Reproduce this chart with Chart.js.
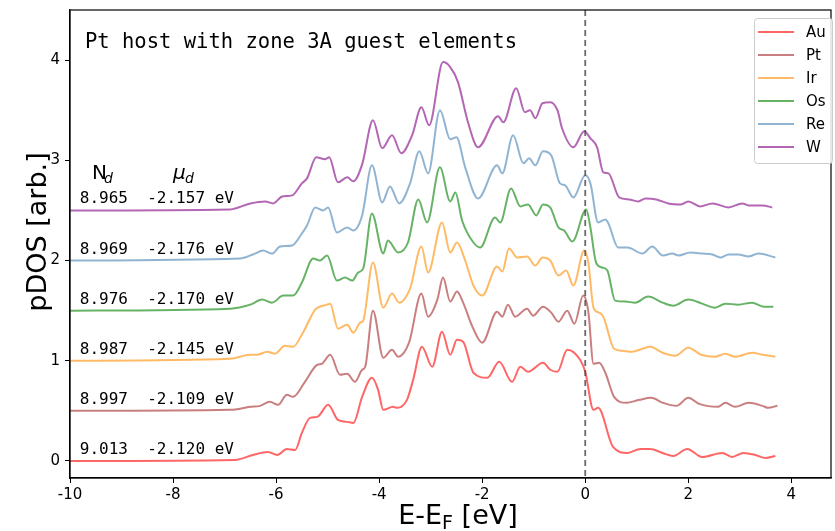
<!DOCTYPE html>
<html><head><meta charset="utf-8">
<script src="https://cdn.jsdelivr.net/npm/chart.js@4"></script>
<style>html,body{margin:0;padding:0;background:#fff}canvas{display:block}</style>
</head><body>
<canvas id="c" width="835" height="531"></canvas>
<script>
const elements = ['Au','Pt','Ir','Os','Re','W'];
const offsets = [0, 0.5, 1.0, 1.5, 2.0, 2.5];
const colors = ['rgba(255,0,0,0.6)','rgba(165,42,42,0.6)','rgba(255,140,0,0.6)','rgba(0,128,0,0.6)','rgba(70,130,180,0.6)','rgba(128,0,128,0.6)'];
const ndValues = ['9.013','8.997','8.987','8.976','8.969','8.965'];
const muValues = ['-2.120','-2.109','-2.145','-2.170','-2.176','-2.157'];
const xTicks = [-10,-8,-6,-4,-2,0,2,4];
const yTicks = [0,1,2,3,4];

// [E - E_F (eV), pDOS (arb.)] before vertical offset
const auPts = [[-10,0],[-6.80,0.01],[-6.45,0.06],[-6.16,0.09],[-5.98,0.06],[-5.79,0.12],[-5.63,0.11],[-5.50,0.28],[-5.34,0.43],[-5.20,0.44],[-4.99,0.56],[-4.80,0.41],[-4.62,0.39],[-4.50,0.38],[-4.33,0.64],[-4.14,0.83],[-4.02,0.71],[-3.92,0.51],[-3.73,0.54],[-3.65,0.53],[-3.46,0.61],[-3.34,0.81],[-3.17,1.14],[-2.97,0.94],[-2.78,1.29],[-2.62,1.06],[-2.49,1.21],[-2.37,1.19],[-2.17,0.88],[-1.90,0.83],[-1.67,0.99],[-1.42,0.79],[-1.26,0.94],[-1.11,0.89],[-0.82,0.98],[-0.68,0.91],[-0.54,0.89],[-0.35,1.11],[-0.10,1.01],[0,0.89],[0.16,0.51],[0.25,0.53],[0.54,0.14],[0.82,0.08],[1.07,0.12],[1.26,0.12],[1.50,0.08],[1.71,0.05],[1.98,0.12],[2.27,0.04],[2.66,0.08],[2.85,0.04],[3.07,0.08],[3.30,0.06],[3.50,0.03],[3.69,0.05]];
const ptPts = [[-10,0],[-6.89,0.01],[-6.50,0.04],[-6.31,0.05],[-6.12,0.09],[-5.96,0.06],[-5.79,0.16],[-5.67,0.14],[-5.44,0.29],[-5.20,0.46],[-5.11,0.47],[-4.95,0.56],[-4.76,0.36],[-4.62,0.37],[-4.47,0.29],[-4.33,0.41],[-4.27,0.44],[-4.12,1.00],[-3.92,0.53],[-3.75,0.61],[-3.63,0.54],[-3.42,0.68],[-3.18,1.17],[-3.05,0.94],[-2.87,1.11],[-2.76,1.33],[-2.62,1.09],[-2.49,1.19],[-2.37,1.08],[-2.19,0.84],[-2.00,0.68],[-1.71,0.99],[-1.61,0.94],[-1.50,1.06],[-1.36,0.94],[-1.13,1.02],[-1.01,0.95],[-0.82,1.04],[-0.66,0.98],[-0.52,0.89],[-0.35,1.00],[-0.21,0.87],[-0.04,1.15],[0.06,0.99],[0.16,0.47],[0.27,0.48],[0.39,0.38],[0.56,0.14],[0.80,0.08],[1.05,0.11],[1.28,0.13],[1.51,0.08],[1.77,0.05],[2.00,0.13],[2.21,0.07],[2.58,0.04],[2.72,0.08],[2.91,0.04],[3.17,0.08],[3.44,0.05],[3.55,0.03],[3.73,0.05]];
const irPts = [[-10,0],[-6.89,0.02],[-6.50,0.06],[-6.37,0.06],[-6.17,0.09],[-6.02,0.07],[-5.83,0.15],[-5.67,0.14],[-5.48,0.28],[-5.24,0.51],[-5.01,0.56],[-4.95,0.57],[-4.80,0.32],[-4.62,0.36],[-4.50,0.28],[-4.37,0.38],[-4.31,0.40],[-4.12,0.98],[-3.92,0.53],[-3.75,0.67],[-3.61,0.58],[-3.40,0.72],[-3.18,1.14],[-3.05,0.88],[-2.78,1.38],[-2.62,1.08],[-2.49,1.18],[-2.33,1.00],[-2.17,0.75],[-2.00,0.65],[-1.71,0.94],[-1.61,0.89],[-1.48,1.12],[-1.32,1.03],[-1.13,1.04],[-0.97,0.95],[-0.83,1.03],[-0.68,1.00],[-0.52,0.85],[-0.37,0.90],[-0.23,0.75],[-0.02,1.10],[0.06,0.98],[0.16,0.53],[0.27,0.48],[0.35,0.44],[0.56,0.12],[0.72,0.10],[0.91,0.09],[1.11,0.12],[1.26,0.14],[1.50,0.08],[1.75,0.05],[2.00,0.13],[2.25,0.06],[2.52,0.04],[2.72,0.07],[2.91,0.04],[3.24,0.08],[3.44,0.06],[3.69,0.04]];
const osPts = [[-10,0],[-6.89,0.02],[-6.50,0.06],[-6.27,0.11],[-6.08,0.08],[-5.86,0.15],[-5.67,0.15],[-5.50,0.28],[-5.28,0.52],[-5.15,0.50],[-5.01,0.55],[-4.82,0.30],[-4.66,0.33],[-4.52,0.30],[-4.41,0.38],[-4.31,0.42],[-4.14,0.97],[-3.92,0.57],[-3.83,0.70],[-3.63,0.58],[-3.44,0.68],[-3.24,1.11],[-3.07,0.88],[-2.82,1.43],[-2.62,1.09],[-2.52,1.18],[-2.39,0.90],[-2.17,0.68],[-2.04,0.63],[-1.75,0.93],[-1.65,0.88],[-1.44,1.22],[-1.26,1.04],[-1.11,1.06],[-0.95,0.95],[-0.82,1.06],[-0.68,1.03],[-0.52,0.83],[-0.41,0.80],[-0.25,0.69],[0.02,1.01],[0.10,0.83],[0.21,0.48],[0.33,0.43],[0.43,0.40],[0.58,0.10],[0.78,0.09],[0.97,0.08],[1.22,0.14],[1.50,0.08],[1.71,0.05],[2.00,0.11],[2.27,0.07],[2.52,0.03],[2.72,0.07],[2.97,0.06],[3.24,0.08],[3.46,0.04],[3.65,0.04]];
const rePts = [[-10,0],[-6.70,0.02],[-6.45,0.06],[-6.25,0.10],[-6.08,0.07],[-5.92,0.14],[-5.69,0.15],[-5.50,0.27],[-5.40,0.35],[-5.24,0.53],[-5.09,0.50],[-4.99,0.53],[-4.82,0.28],[-4.62,0.33],[-4.50,0.30],[-4.33,0.45],[-4.14,0.95],[-3.94,0.58],[-3.79,0.74],[-3.61,0.57],[-3.40,0.77],[-3.22,1.09],[-3.05,0.87],[-2.82,1.50],[-2.62,1.21],[-2.50,1.23],[-2.33,0.93],[-2.08,0.62],[-1.71,0.95],[-1.61,0.87],[-1.40,1.25],[-1.20,0.97],[-1.09,1.02],[-0.97,0.95],[-0.82,1.09],[-0.66,1.05],[-0.49,0.77],[-0.39,0.75],[-0.23,0.63],[0.00,0.85],[0.10,0.77],[0.25,0.38],[0.39,0.41],[0.45,0.37],[0.64,0.13],[0.82,0.13],[1.11,0.07],[1.30,0.14],[1.51,0.05],[1.69,0.07],[1.81,0.05],[2.04,0.08],[2.27,0.07],[2.47,0.06],[2.62,0.03],[2.78,0.06],[2.97,0.06],[3.17,0.04],[3.36,0.07],[3.69,0.03]];
const wPts = [[-10,0],[-6.89,0.01],[-6.50,0.07],[-6.21,0.09],[-6.06,0.07],[-5.88,0.14],[-5.69,0.15],[-5.50,0.27],[-5.40,0.32],[-5.22,0.53],[-5.05,0.51],[-4.97,0.53],[-4.80,0.28],[-4.62,0.33],[-4.50,0.29],[-4.33,0.46],[-4.12,0.90],[-3.94,0.62],[-3.75,0.75],[-3.57,0.57],[-3.36,0.75],[-3.18,1.03],[-3.03,0.85],[-2.76,1.48],[-2.62,1.43],[-2.47,1.28],[-2.27,0.87],[-2.08,0.63],[-1.69,0.94],[-1.59,0.88],[-1.34,1.22],[-1.17,0.98],[-1.07,1.00],[-0.97,0.92],[-0.83,1.07],[-0.68,1.08],[-0.54,1.00],[-0.45,0.82],[-0.23,0.63],[-0.02,0.79],[0.10,0.72],[0.23,0.63],[0.35,0.38],[0.45,0.37],[0.66,0.13],[0.85,0.11],[1.03,0.09],[1.17,0.12],[1.38,0.11],[1.61,0.07],[1.86,0.06],[2.00,0.09],[2.23,0.04],[2.47,0.07],[2.78,0.03],[3.05,0.07],[3.17,0.05],[3.44,0.05],[3.63,0.03]];
const seriesPts = [auPts, ptPts, irPts, osPts, rePts, wPts];

const datasets = seriesPts.map((pts, i) => ({
  label: elements[i],
  data: pts.map(p => ({x: p[0], y: p[1] + offsets[i]})),
  borderColor: colors[i],
  backgroundColor: colors[i],
  borderWidth: 2,
  pointRadius: 0,
  fill: false,
  cubicInterpolationMode: 'monotone'
}));

const decor = {
  id: 'decor',
  afterDatasetsDraw(chart) {
    const ctx = chart.ctx, a = chart.chartArea;
    const xs = chart.scales.x, ys = chart.scales.y;
    ctx.save();
    // Fermi level dashed line
    const x0 = xs.getPixelForValue(0);
    ctx.strokeStyle = 'rgba(70,70,70,0.8)';
    ctx.lineWidth = 1.8;
    ctx.setLineDash([6, 4]);
    ctx.beginPath(); ctx.moveTo(x0, a.top); ctx.lineTo(x0, a.bottom); ctx.stroke();
    ctx.setLineDash([]);
    // frame
    ctx.strokeStyle = '#000'; ctx.lineWidth = 1.2;
    ctx.strokeRect(a.left, a.top, a.right - a.left, a.bottom - a.top);
    // title text
    ctx.fillStyle = '#000';
    ctx.textBaseline = 'alphabetic';
    ctx.textAlign = 'left';
    ctx.font = '20.5px "DejaVu Sans Mono"';
    ctx.fillText('Pt host with zone 3A guest elements', 85, 48);
    // row labels
    ctx.font = '16px "DejaVu Sans Mono"';
    const lx = xs.getPixelForValue(-9.81);
    for (let i = 0; i < elements.length; i++) {
      const py = ys.getPixelForValue(offsets[i]) - 7;
      ctx.fillText(ndValues[i] + '  ' + muValues[i] + ' eV', lx, py);
    }
    // N_d and mu_d headers
    ctx.font = '20px "DejaVu Sans"';
    ctx.fillText('N', 92, 179);
    ctx.font = 'italic 14px "DejaVu Sans"';
    ctx.fillText('d', 104, 183);
    ctx.font = 'italic 20px "DejaVu Sans"';
    ctx.fillText('μ', 173, 179);
    ctx.font = 'italic 14px "DejaVu Sans"';
    ctx.fillText('d', 185, 183);
    // legend
    const bx = 754, by = 18, bw = 78, bh = 145;
    ctx.fillStyle = 'rgba(255,255,255,0.85)';
    ctx.strokeStyle = '#cccccc'; ctx.lineWidth = 1;
    ctx.beginPath();
    if (ctx.roundRect) ctx.roundRect(bx + 0.5, by + 0.5, bw, bh, 3); else ctx.rect(bx + 0.5, by + 0.5, bw, bh);
    ctx.fill(); ctx.stroke();
    ctx.font = '15px "DejaVu Sans"';
    ctx.textBaseline = 'middle';
    for (let i = 0; i < elements.length; i++) {
      const yy = 32 + i * 23;
      ctx.strokeStyle = colors[i]; ctx.lineWidth = 2;
      ctx.beginPath(); ctx.moveTo(758, yy); ctx.lineTo(794, yy); ctx.stroke();
      ctx.fillStyle = '#000';
      ctx.fillText(elements[i], 806, yy + 1);
    }
    // axis titles
    ctx.textBaseline = 'alphabetic';
    ctx.font = '27px "DejaVu Sans"';
    const t1 = 'E-E', t3 = ' [eV]';
    const w1 = ctx.measureText(t1).width, w3 = ctx.measureText(t3).width;
    ctx.font = '19px "DejaVu Sans"';
    const w2 = ctx.measureText('F').width;
    let sx = 458 - (w1 + w2 + w3) / 2;
    ctx.font = '27px "DejaVu Sans"';
    ctx.fillText(t1, sx, 524);
    ctx.font = '19px "DejaVu Sans"';
    ctx.fillText('F', sx + w1, 529);
    ctx.font = '27px "DejaVu Sans"';
    ctx.fillText(t3, sx + w1 + w2, 524);
    ctx.translate(46, 232);
    ctx.rotate(-Math.PI / 2);
    ctx.textAlign = 'center';
    ctx.fillText('pDOS [arb.]', 0, 0);
    ctx.restore();
  }
};

new Chart(document.getElementById('c'), {
  type: 'line',
  data: { datasets },
  options: {
    responsive: false,
    animation: false,
    events: [],
    layout: { padding: { top: 10, right: 4, left: 0, bottom: 0 } },
    plugins: { legend: { display: false }, tooltip: { enabled: false }, title: { display: false } },
    scales: {
      x: {
        type: 'linear', min: -10, max: 4.77,
        afterBuildTicks: s => { s.ticks = xTicks.map(v => ({value: v})); },
        afterFit: s => { s.height = 53; s.paddingLeft = 0; s.paddingRight = 0; },
        grid: { drawOnChartArea: false, drawTicks: true, tickLength: 5, color: '#000', tickColor: '#000' },
        border: { display: true, color: '#000', width: 1.2 },
        ticks: { color: '#000', font: { family: 'DejaVu Sans', size: 15 }, padding: 3, maxRotation: 0, autoSkip: false }
      },
      y: {
        type: 'linear', min: -0.17, max: 4.5,
        afterBuildTicks: s => { s.ticks = yTicks.map(v => ({value: v})); },
        afterFit: s => { s.width = 70; s.paddingTop = 0; s.paddingBottom = 0; },
        grid: { drawOnChartArea: false, drawTicks: true, tickLength: 5, color: '#000', tickColor: '#000' },
        border: { display: true, color: '#000', width: 1.2 },
        ticks: { color: '#000', font: { family: 'DejaVu Sans', size: 15 }, padding: 5, autoSkip: false }
      }
    }
  },
  plugins: [decor]
});
</script>
</body></html>
